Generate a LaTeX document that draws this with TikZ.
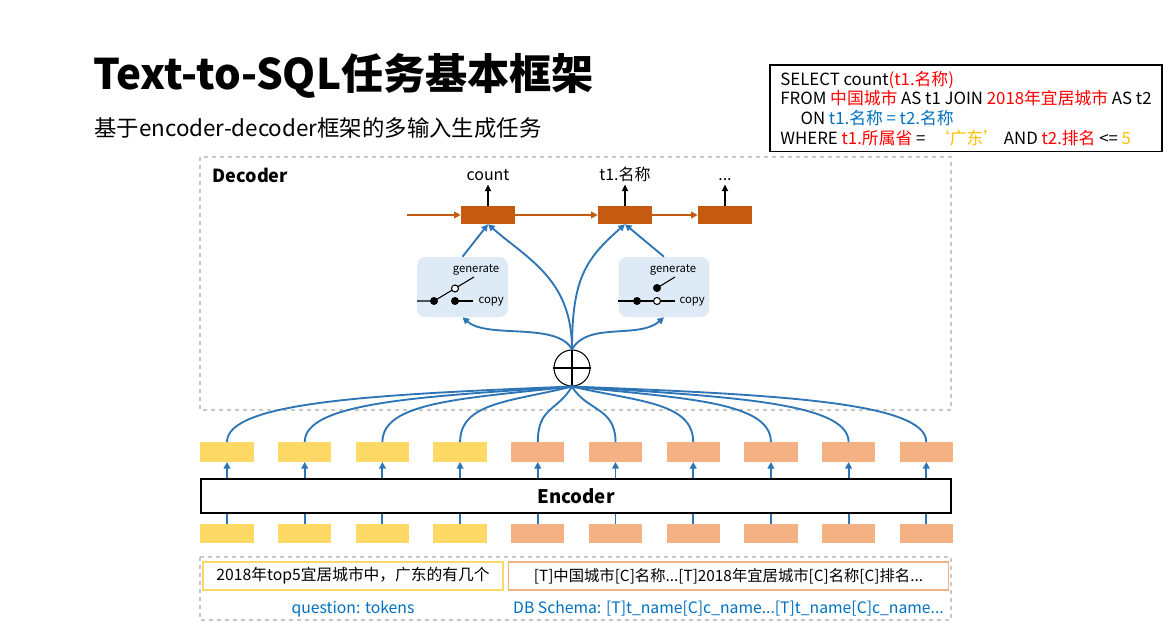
\documentclass[tikz,border=0pt]{standalone}
\usepackage{fontspec}
\setmainfont{Noto Sans CJK SC}
\usetikzlibrary{arrows.meta,positioning}
\definecolor{linkblue}{HTML}{2E75B6}
\definecolor{textblue}{HTML}{0070C0}
\definecolor{decorange}{HTML}{C55A11}
\definecolor{qyellow}{HTML}{FFD966}
\definecolor{ssalmon}{HTML}{F4B183}
\definecolor{swbg}{HTML}{DEEBF7}
\definecolor{sqlred}{HTML}{FF0000}
\definecolor{sqlgold}{HTML}{FFC000}
\definecolor{framegray}{HTML}{C8C8C8}

\begin{document}
\begin{tikzpicture}[x=0.75pt, y=0.75pt,
    every node/.append style={font=\fontsize{12}{14.6}\selectfont},
    cell/.style={rectangle, draw=none, minimum width=40pt, minimum height=14.5pt, inner sep=0pt},
    deccell/.style={rectangle, draw=none, fill=decorange, minimum width=40.5pt, minimum height=13.5pt, inner sep=0pt},
    swbox/.style={rectangle, rounded corners=6pt, fill=swbg, minimum width=68pt, minimum height=45pt},
    swlabel/.style={font=\fontsize{8.5}{10}\selectfont, inner sep=1pt},
    outlabel/.style={text height=9pt, text depth=2pt, inner sep=1pt},
    dashbox/.style={draw=framegray, dashed, line width=1pt},
    link/.style={draw=linkblue, line width=1.4pt},
    tip/.style={-{Triangle[length=5pt,width=5pt]}}]

  \useasboundingbox (0,0) rectangle (1176,-627);

  % title
  \node(title)[anchor=west, inner sep=0pt, font=\fontsize{31.6}{36}\selectfont\bfseries] at (93,-76) {Text-to-SQL任务基本框架};
  \node(subtitle)[anchor=west, inner sep=0pt, font=\fontsize{16.8}{19}\selectfont] at (94,-128) {基于encoder-decoder框架的多输入生成任务};

  % target sql
  \node(sql)[draw, line width=1pt, minimum width=294pt, minimum height=65pt, inner sep=2pt, align=left, font=\fontsize{12.6}{14.8}\selectfont] at (966,-108.5) {%
    SELECT count{\color{sqlred}(t1.名称)}\\
    FROM {\color{sqlred}中国城市} AS t1 JOIN {\color{sqlred}2018年宜居城市} AS t2\\
    \hspace*{1.2em}ON {\color{textblue}t1.名称 = t2.名称}\\
    WHERE {\color{sqlred}t1.所属省} = \ {\color{sqlgold}‘广东’}\ AND {\color{sqlred}t2.排名} <= {\color{sqlgold}5}};

  % decoder
  \draw[dashbox] (200,-157) rectangle (951,-410);
  \node(dec-lab)[anchor=west, font=\fontsize{13.5}{16}\selectfont\bfseries] at (208,-175) {Decoder};

  \node(dec-1)[deccell] at (488,-215) {};
  \node(dec-2)[deccell] at (625,-215) {};
  \node(dec-3)[deccell] at (725,-215) {};
  \coordinate(dec-in) at (407,-215);

  \draw[decorange, line width=1.3pt, -{Triangle[length=5pt,width=5pt]}] (dec-in) -- (dec-1);
  \draw[decorange, line width=1.3pt, -{Triangle[length=5pt,width=5pt]}] (dec-1) -- (dec-2);
  \draw[decorange, line width=1.3pt, -{Triangle[length=5pt,width=5pt]}] (dec-2) -- (dec-3);

  \node(out-1)[outlabel, above=16pt of dec-1] {count};
  \node(out-2)[outlabel, above=16pt of dec-2] {t1.名称};
  \node(out-3)[outlabel, above=16pt of dec-3] {...};
  \foreach \i in {1,2,3}
    \draw[line width=1.3pt, -{Triangle[length=5pt,width=4.5pt]}] (dec-\i) -- (out-\i);

  % copy / generate switches
  \node(sw-1)[swbox] at (462.5,-287) {};
  \node(sw-2)[swbox] at (664,-287) {};

  \begin{scope}[shift={(sw-1.center)}]
    \draw[line width=0.8pt] (-45.5,-14) -- (-28.5,-14) -- (11.5,10);
    \draw[line width=0.8pt] (-7.5,-14) -- (10.5,-14);
    \fill (-28.5,-14) circle (4);
    \fill (-7.5,-14) circle (4);
    \draw[line width=0.8pt, fill=white] (-7.5,-1.5) circle (3.5);
    \node(gen-1)[swlabel] at (13.5,17) {generate};
    \node(copy-1)[swlabel, anchor=west] at (14.5,-14.5) {copy};
  \end{scope}

  \begin{scope}[shift={(sw-2.center)}]
    \draw[line width=0.8pt] (-46,-14) -- (11,-14);
    \draw[line width=0.8pt] (-7,-1) -- (11,10);
    \fill (-27,-14) circle (4);
    \draw[line width=0.8pt, fill=white] (-7,-14) circle (3.5);
    \fill (-7,-1) circle (4);
    \node(gen-2)[swlabel] at (9,17) {generate};
    \node(copy-2)[swlabel, anchor=west] at (14,-14.5) {copy};
  \end{scope}

  % merge of all encoder states
  \node(plus)[circle, draw, line width=0.8pt, minimum size=27pt, inner sep=0pt, fill=white] at (572,-368) {};
  \draw[line width=0.8pt] (plus.north) -- (plus.south) (plus.west) -- (plus.east);

  \draw[link, tip] (plus.north) .. controls +(0,70) and +(40,-35) .. (dec-1.south);
  \draw[link, tip] (plus.north) .. controls +(0,70) and +(-40,-35) .. (dec-2.south);
  \draw[link, tip] (plus.north) .. controls +(-15,28) and +(25,-22) .. (sw-1.south);
  \draw[link, tip] (plus.north) .. controls +(15,28) and +(-25,-22) .. (sw-2.south);
  \draw[link, tip] (sw-1.north) -- (dec-1.south);
  \draw[link, tip] (sw-2.north) -- (dec-2.south);

  % encoder
  \node(enc)[draw, line width=1.5pt, minimum width=563pt, minimum height=25pt, font=\fontsize{14}{16}\selectfont\bfseries] at (576,-496) {Encoder};

  \foreach \i/\cc in {1/qyellow,2/qyellow,3/qyellow,4/qyellow,5/ssalmon,6/ssalmon,7/ssalmon,8/ssalmon,9/ssalmon,10/ssalmon} {
    \node(hid-\i)[cell, fill=\cc] at ({227+77.7*(\i-1)},-452) {};
    \node(in-\i)[cell, fill=\cc] at ({227+77.7*(\i-1)},-533.5) {};
    \draw[link] (in-\i) -- (enc.south -| in-\i);
    \draw[link, tip] (enc.north -| hid-\i) -- (hid-\i);
  }

  \foreach \i/\c/\dx/\dy in {1/40/-200/-8, 2/40/-150/-10, 3/40/-110/-12, 4/40/-60/-15, 5/35/-15/-25,
      6/35/15/-25, 7/40/65/-15, 8/40/115/-12, 9/40/155/-10, 10/40/205/-8}
    \draw[link] (hid-\i.north) .. controls +(0,\c) and +(\dx,\dy) .. (plus.south);

  % inputs
  \draw[dashbox] (200,-557) rectangle (951,-620);
  \node(q-box)[draw=qyellow, line width=1pt, minimum width=225pt, minimum height=21pt, inner sep=2pt, font=\fontsize{11.8}{13}\selectfont] at (353,-576) {2018年top5宜居城市中，广东的有几个};
  \node(s-box)[draw=ssalmon, line width=1pt, minimum width=330pt, minimum height=21pt, inner sep=2pt, font=\fontsize{11.5}{13}\selectfont] at (728.5,-576) {[T]中国城市[C]名称...[T]2018年宜居城市[C]名称[C]排名...};
  \node(q-lab)[below=4pt of q-box, text=textblue, font=\fontsize{11.8}{13}\selectfont] {question: tokens};
  \node(s-lab)[below=4pt of s-box, text=textblue, font=\fontsize{11.8}{13}\selectfont] {DB Schema: [T]t\_name[C]c\_name...[T]t\_name[C]c\_name...};

\end{tikzpicture}
\end{document}
